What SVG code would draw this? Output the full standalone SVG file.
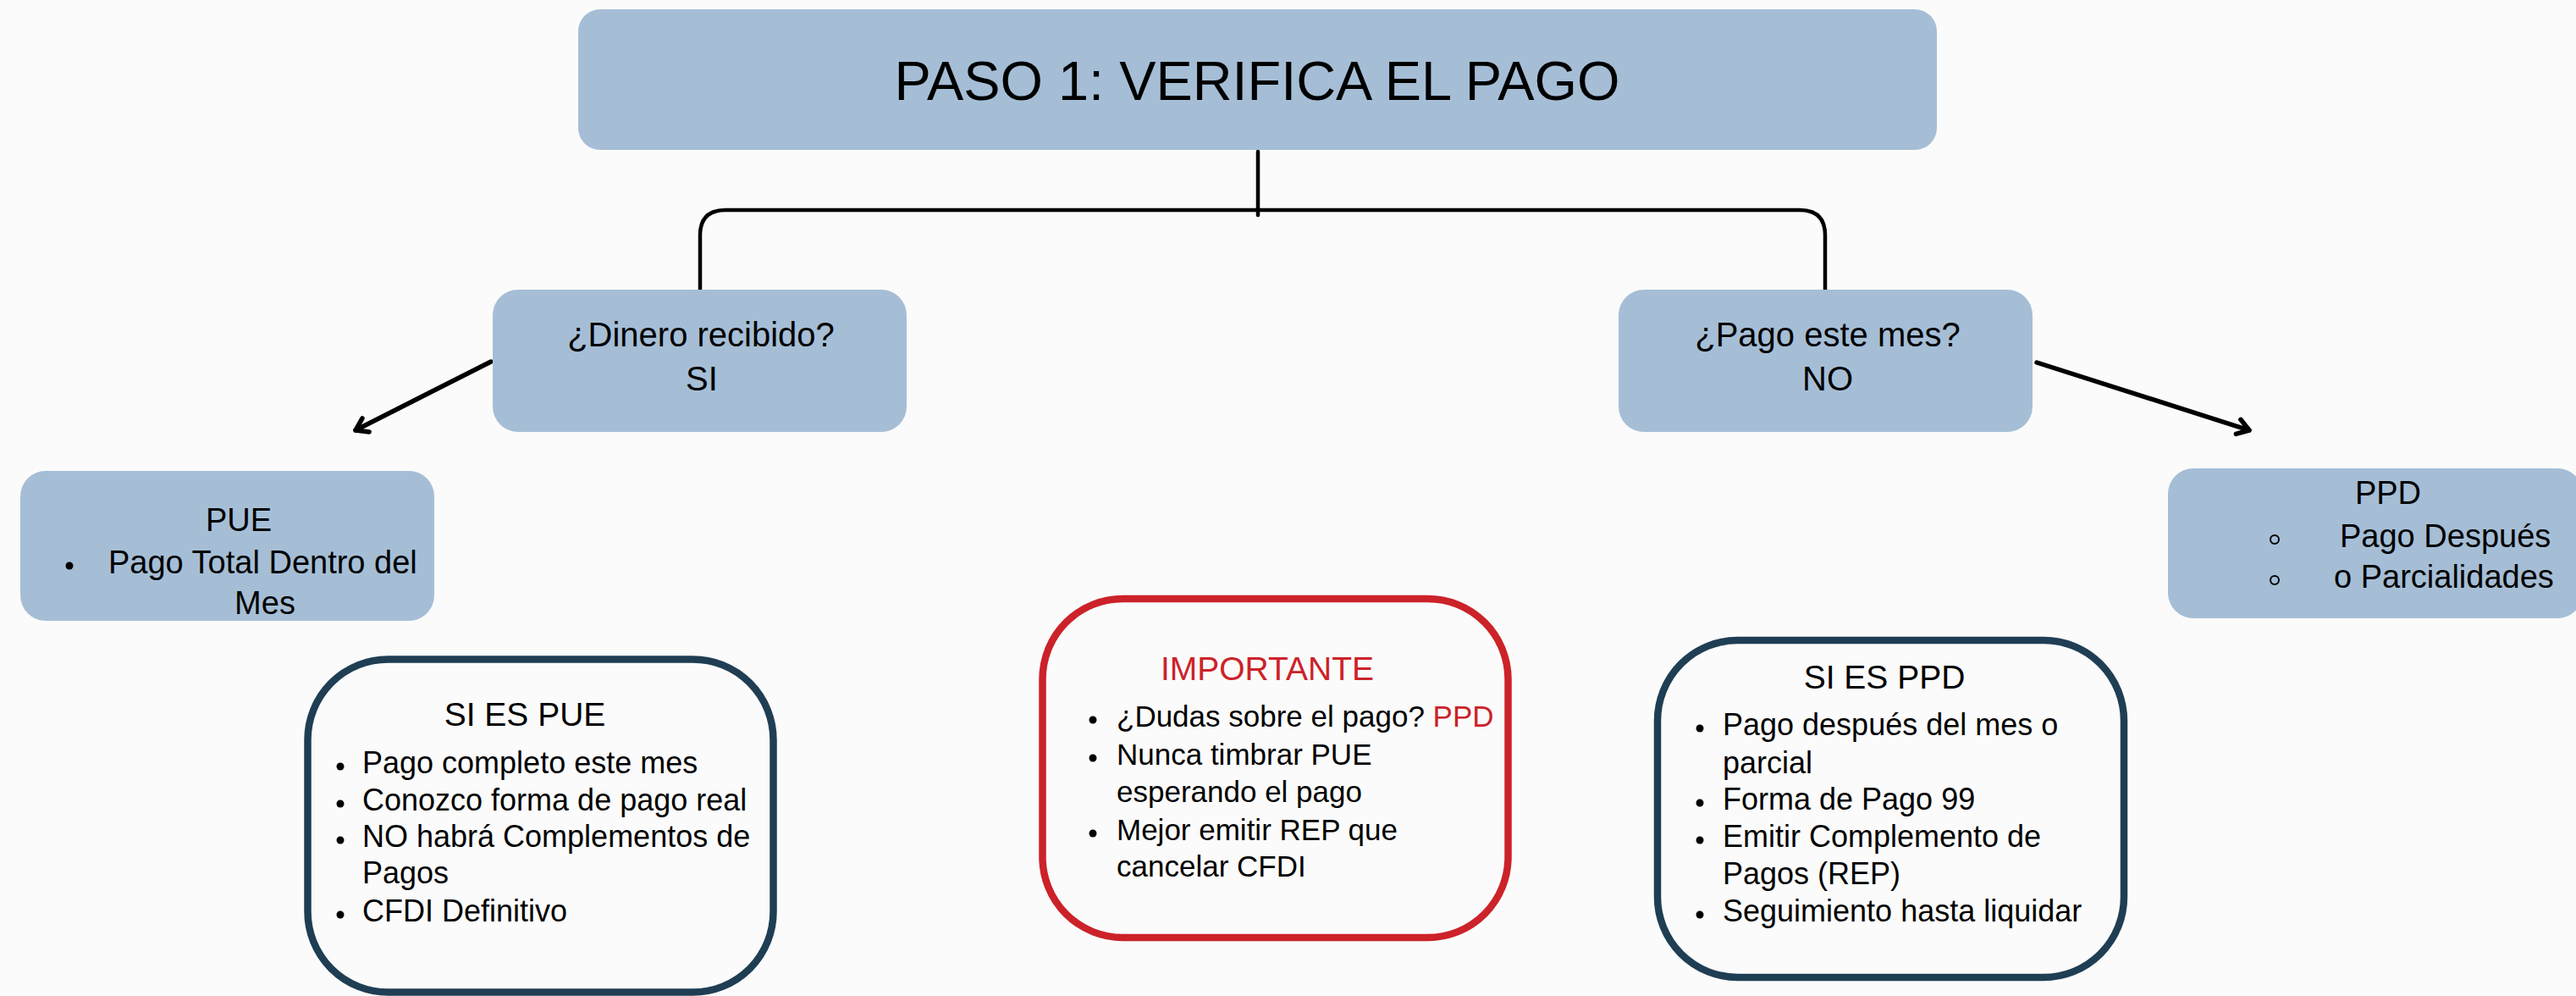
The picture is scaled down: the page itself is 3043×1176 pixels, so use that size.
<svg xmlns="http://www.w3.org/2000/svg" width="3043" height="1176" viewBox="0 0 3043 1176">
<defs>
<style>
text{font-family:"Liberation Sans",Arial,sans-serif;fill:#000}
.blue{fill:#a5bed6}
.outline{fill:none;stroke-width:8.5}
.navy{stroke:#1f3e54}
.red{stroke:#cc2229}
.redtxt{fill:#cc2229}
.conn{fill:none;stroke:#000;stroke-width:4.5;stroke-linecap:round;stroke-linejoin:round}
.arrow{fill:none;stroke:#000;stroke-width:5.5;stroke-linecap:round;stroke-linejoin:round}
.q{font-size:40px;text-anchor:middle}
.lbl{font-size:38px}
.hd{font-size:39px;text-anchor:middle}
.li{font-size:36px}
.li2{font-size:35px}
.dot{fill:#000}
.ring{fill:none;stroke:#000;stroke-width:2}
</style>
<marker id="chev" markerUnits="userSpaceOnUse" viewBox="-20 -14 26 28" refX="0" refY="0" markerWidth="26" markerHeight="28" orient="auto">
<path d="M-13.5,-9 L0,0 L-13.5,9" fill="none" stroke="#000" stroke-width="5.5" stroke-linecap="round" stroke-linejoin="round"/>
</marker>
</defs>
<rect width="3043" height="1176" fill="#fbfbfb"/>

<g id="connectors">
<path class="conn" d="M1486,179 V254"/>
<path class="conn" d="M827,342 V278 Q827,248 857,248 H2126 Q2156,248 2156,278 V342"/>
<path class="arrow" d="M580,427 L420,508" marker-end="url(#chev)"/>
<path class="arrow" d="M2406,428 L2657,508" marker-end="url(#chev)"/>
</g>

<g id="title">
<rect class="blue" x="683" y="11" width="1605" height="166" rx="26"/>
<text x="1485" y="118" font-size="64" text-anchor="middle" textLength="857" lengthAdjust="spacingAndGlyphs">PASO 1: VERIFICA EL PAGO</text>
</g>

<g id="q-dinero">
<rect class="blue" x="582" y="342" width="489" height="168" rx="30"/>
<text class="q" x="828" y="409">¿Dinero recibido?</text>
<text class="q" x="829" y="461">SI</text>
</g>

<g id="q-pago">
<rect class="blue" x="1912" y="342" width="489" height="168" rx="30"/>
<text class="q" x="2159" y="409">¿Pago este mes?</text>
<text class="q" x="2159" y="461">NO</text>
</g>

<g id="pue">
<rect class="blue" x="24" y="556" width="489" height="177" rx="30"/>
<text class="lbl" x="282" y="627" text-anchor="middle">PUE</text>
<circle class="dot" cx="82" cy="668" r="4.5"/>
<text class="lbl" x="128" y="677">Pago Total Dentro del</text>
<text class="lbl" x="313" y="725" text-anchor="middle">Mes</text>
</g>

<g id="ppd">
<rect class="blue" x="2561" y="553" width="490" height="177" rx="30"/>
<text class="lbl" x="2821" y="595" text-anchor="middle">PPD</text>
<circle class="ring" cx="2687" cy="637" r="5"/>
<text class="lbl" x="2764" y="646">Pago Después</text>
<circle class="ring" cx="2687" cy="685" r="5"/>
<text class="lbl" x="2757" y="694">o Parcialidades</text>
</g>

<g id="si-es-pue">
<rect class="outline navy" x="363.5" y="778.5" width="550" height="393" rx="95"/>
<text class="hd" x="620" y="857">SI ES PUE</text>
<circle class="dot" cx="402" cy="905" r="4.5"/>
<text class="li" x="428" y="913">Pago completo este mes</text>
<circle class="dot" cx="402" cy="949" r="4.5"/>
<text class="li" x="428" y="957">Conozco forma de pago real</text>
<circle class="dot" cx="402" cy="992" r="4.5"/>
<text class="li" x="428" y="1000">NO habrá Complementos de</text>
<text class="li" x="428" y="1043">Pagos</text>
<circle class="dot" cx="402" cy="1080" r="4.5"/>
<text class="li" x="428" y="1088">CFDI Definitivo</text>
</g>

<g id="importante">
<rect class="outline red" x="1231.5" y="707" width="550" height="400" rx="95"/>
<text class="hd redtxt" x="1497" y="803">IMPORTANTE</text>
<circle class="dot" cx="1291" cy="850" r="4.5"/>
<text class="li2" x="1319" y="858">¿Dudas sobre el pago? <tspan class="redtxt">PPD</tspan></text>
<circle class="dot" cx="1291" cy="895" r="4.5"/>
<text class="li2" x="1319" y="903">Nunca timbrar PUE</text>
<text class="li2" x="1319" y="947">esperando el pago</text>
<circle class="dot" cx="1291" cy="984" r="4.5"/>
<text class="li2" x="1319" y="992">Mejor emitir REP que</text>
<text class="li2" x="1319" y="1035">cancelar CFDI</text>
</g>

<g id="si-es-ppd">
<rect class="outline navy" x="1958" y="756" width="551" height="398" rx="95"/>
<text class="hd" x="2226" y="813">SI ES PPD</text>
<circle class="dot" cx="2008" cy="860" r="4.5"/>
<text class="li" x="2035" y="868">Pago después del mes o</text>
<text class="li" x="2035" y="913">parcial</text>
<circle class="dot" cx="2008" cy="948" r="4.5"/>
<text class="li" x="2035" y="956">Forma de Pago 99</text>
<circle class="dot" cx="2008" cy="992" r="4.5"/>
<text class="li" x="2035" y="1000">Emitir Complemento de</text>
<text class="li" x="2035" y="1044">Pagos (REP)</text>
<circle class="dot" cx="2008" cy="1080" r="4.5"/>
<text class="li" x="2035" y="1088">Seguimiento hasta liquidar</text>
</g>
</svg>
